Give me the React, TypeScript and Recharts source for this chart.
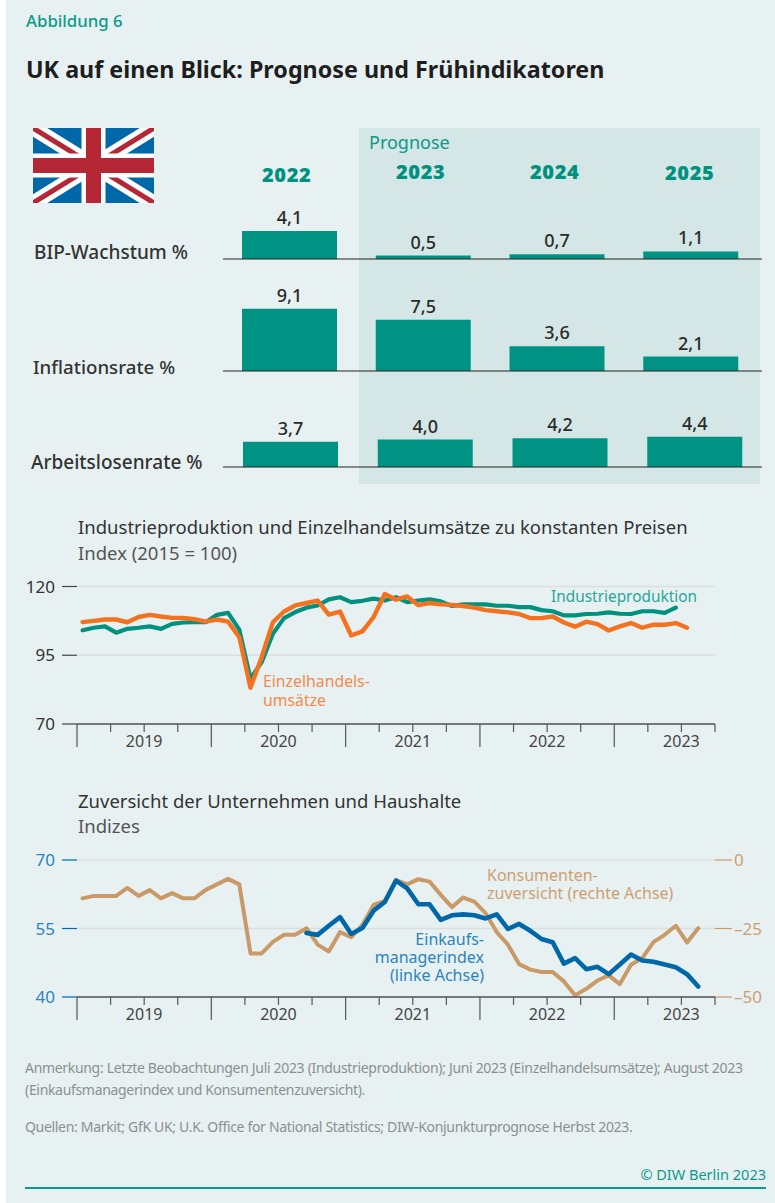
import React from 'react';
import { Bar, BarChart, CartesianGrid, LabelList, Line, LineChart, XAxis, YAxis } from 'recharts';

const FONT = '"Noto Sans", sans-serif';
const TEAL = '#00917f';
const ORANGE = '#f4711f';
const TAN = '#c99a68';
const BLUE = '#0068a8';

const forecastYears = ['2022', '2023', '2024', '2025'];
const gdpGrowth = [4.1, 0.5, 0.7, 1.1];
const inflation = [9.1, 7.5, 3.6, 2.1];
const unemployment = [3.7, 4.0, 4.2, 4.4];

const yearLabels = ['2019', '2020', '2021', '2022', '2023'];
const monthTicks = [0, 3, 6, 9, 12, 15, 18, 21, 24, 27, 30, 33, 36, 39, 42, 45, 48, 51, 54, 57];

const industry = [
  104.1, 105, 105.5, 103.2, 104.6, 105, 105.5, 104.6, 106.4, 106.9, 107, 107,
  109.7, 110.4, 104.3, 86.5, 92.5, 102.8, 108.5, 110.7, 112.3, 113.1, 115.3, 116.1,
  114.3, 114.8, 115.6, 114.9, 116.1, 114.3, 114.9, 115.3, 114.6, 112.9, 113.5, 113.5,
  113.5, 113, 113, 112.5, 112.5, 111.4, 111, 109.5, 109.5, 110, 110.1, 110.6,
  110.1, 110, 111, 111, 110.4, 112.3,
];
const retail = [
  107.05, 107.5, 108, 108, 107, 108.9, 109.7, 109.1, 108.6, 108.6, 108.1, 107.2,
  108, 107.2, 101.6, 83.2, 94.3, 107, 110.9, 113.1, 114, 114.9, 109.8, 110.9,
  102.2, 103.7, 108.9, 117.3, 115.2, 116.4, 113.2, 114, 113.5, 113.3, 112.9, 112.3,
  111.4, 111, 110.6, 110, 108.5, 108.5, 109.1, 106.9, 105.4, 107.2, 106.3, 104,
  105.5, 106.7, 105, 106.1, 106.1, 106.7, 105,
];
const consumer = [
  -14, -13.1, -13.1, -13.1, -10.2, -13.1, -11, -14, -12.1, -14, -14, -10.9,
  -8.9, -6.9, -8.9, -34.1, -34.1, -29.9, -27.3, -27.3, -24.9, -30.9, -33.4, -26.3,
  -28.2, -23.7, -16.4, -14.9, -7.3, -8.9, -7, -7.9, -12.7, -17.2, -13.7, -15.2,
  -19.4, -26.3, -30.9, -38, -40, -40.9, -40.9, -44.3, -49.4, -47, -44, -42.1,
  -45.3, -38.2, -35.8, -30, -27.3, -24, -30.1, -24.9,
];
const pmi = [
  null, null, null, null, null, null, null, null, null, null, null, null,
  null, null, null, null, null, null, null, null, 54, 53.6, 55.6, 57.5,
  53.8, 55.1, 58.9, 60.8, 65.5, 63.8, 60.3, 60.3, 56.9, 57.9, 58.1, 57.9,
  57.2, 58.1, 54.9, 56, 54.5, 52.7, 52, 47.3, 48.5, 46.1, 46.6, 45,
  47.1, 49.3, 48, 47.7, 47.1, 46.5, 45, 42.3,
];

const upperData = retail.map((v, i) => ({ pos: i + 0.5, retail: v, industry: industry[i] ?? null }));
const lowerData = consumer.map((v, i) => ({ pos: i + 0.5, consumer: v, pmi: pmi[i] }));

const fmt = (v: number) => v.toFixed(1).replace('.', ',');

const Txt = ({ x, y, color = '#333', size = 16, weight = 400, align = 'left', spacing = 0, font = FONT, children }: any) => (
  <div
    style={{
      position: 'absolute',
      left: align === 'left' ? x : undefined,
      right: align === 'right' ? 775 - x : undefined,
      top: y - 8,
      lineHeight: '16px',
      height: 16,
      whiteSpace: 'nowrap',
      color,
      fontSize: size,
      fontWeight: weight,
      fontFamily: font,
      letterSpacing: spacing,
    }}
  >
    {children}
  </div>
);

const TimeTick = ({ x, y, payload, color }: any) => {
  const m = payload.value;
  const isYear = m % 12 === 0;
  return (
    <g>
      <line x1={x} x2={x} y1={y} y2={y + (isYear ? 23 : 8)} stroke="#555" strokeWidth={1.2} />
      {m % 12 === 6 && (
        <text x={x} y={y + 23} textAnchor="middle" fontSize={16} fontFamily={FONT} fill={color}>
          {yearLabels[(m - 6) / 12]}
        </text>
      )}
    </g>
  );
};

const ColorTick = ({ x, y, payload, color, anchor, shift = 0, fmtr }: any) => (
  <text x={x + shift} y={y} dy={6} textAnchor={anchor} fontSize={17} fontFamily={FONT} fill={color}>
    {fmtr ? fmtr(payload.value) : payload.value}
  </text>
);

const BarRow = ({ values, baseline, inset = 4 }: { values: number[]; baseline: number; inset?: number }) => {
  const data = forecastYears.map((year, i) => ({ year, value: values[i] }));
  return (
    <div style={{ position: 'absolute', left: 0, top: baseline - 99 }}>
      <BarChart width={775} height={100} data={data} margin={{ top: 30.5, right: 13, bottom: 0, left: 223 }}>
        <XAxis dataKey="year" tick={false} tickLine={false} height={1} padding={{ left: 0, right: inset }} axisLine={{ stroke: '#222', strokeWidth: 1 }} />
        <YAxis hide domain={[0, 10]} />
        <Bar dataKey="value" fill="#009384" barSize={95} isAnimationActive={false}>
          <LabelList dataKey="value" position="top" offset={7} formatter={fmt} fontSize={18} fontWeight={500} fontFamily={FONT} fill="#2a2a2a" />
        </Bar>
      </BarChart>
    </div>
  );
};

const Flag = () => (
  <svg width={121} height={75} viewBox="0 0 121 75" style={{ position: 'absolute', left: 33, top: 128 }}>
    <rect width={121} height={75} fill="#0068a8" />
    <path d="M0 0L121 75M121 0L0 75" stroke="#fff" strokeWidth={15} />
    <path d="M0 0L121 75M121 0L0 75" stroke="#b52735" strokeWidth={5} />
    <path d="M60.5 0V75M0 37.5H121" stroke="#fff" strokeWidth={24} />
    <path d="M60.5 0V75M0 37.5H121" stroke="#b52735" strokeWidth={15} />
  </svg>
);

const App = () => (
  <div style={{ position: 'absolute', left: 0, top: 0, width: 775, height: 1203, background: '#fff', overflow: 'hidden' }}>
    <div style={{ position: 'absolute', left: 6, top: 0, width: 769, height: 1203, background: '#e8f1f2' }} />
    <div style={{ position: 'absolute', left: 359, top: 128, width: 401, height: 356, background: '#d4e6e5' }} />

    <Txt x={26} y={21} color="#0a9a8a" size={16.8} weight={500}>Abbildung 6</Txt>
    <Txt x={26} y={69} color="#1e1e1e" size={23.3} weight={700}>UK auf einen Blick: Prognose und Frühindikatoren</Txt>

    <Flag />
    <Txt x={369} y={142} color="#0a9a8a" size={18}>Prognose</Txt>
    <Txt x={262} y={175} color={TEAL} size={20} weight={900} spacing={0.6}>2022</Txt>
    <Txt x={396} y={172} color={TEAL} size={20} weight={900} spacing={0.6}>2023</Txt>
    <Txt x={530} y={172} color={TEAL} size={20} weight={900} spacing={0.6}>2024</Txt>
    <Txt x={665} y={173} color={TEAL} size={20} weight={900} spacing={0.6}>2025</Txt>

    <BarRow values={gdpGrowth} baseline={259} />
    <BarRow values={inflation} baseline={371} />
    <BarRow values={unemployment} baseline={467} inset={0} />

    <Txt x={34} y={252} size={19} weight={500}>BIP-Wachstum %</Txt>
    <Txt x={33} y={367} size={18.7} weight={500}>Inflationsrate %</Txt>
    <Txt x={31} y={462} size={19} weight={500}>Arbeitslosenrate %</Txt>

    <Txt x={78} y={527} size={18.5}>Industrieproduktion und Einzelhandelsumsätze zu konstanten Preisen</Txt>
    <Txt x={78} y={553} size={18.5} color="#555">Index (2015 = 100)</Txt>

    <div style={{ position: 'absolute', left: 0, top: 570 }}>
      <LineChart width={775} height={190} data={upperData} margin={{ top: 16.5, right: 60, bottom: 0, left: 0 }}>
        <CartesianGrid horizontal vertical={false} stroke="#dcdfe0" strokeWidth={1.5} />
        <XAxis
          type="number"
          dataKey="pos"
          domain={[0, 57]}
          ticks={monthTicks}
          interval={0}
          height={36}
          tickLine={false}
          tickSize={0}
          tickMargin={0}
          axisLine={{ stroke: '#555', strokeWidth: 1.5 }}
          tick={<TimeTick color="#444" />}
        />
        <YAxis
          width={77}
          domain={[70, 120]}
          ticks={[70, 95, 120]}
          axisLine={false}
          tickSize={15}
          tickLine={{ stroke: '#444', strokeWidth: 1.2 }}
          tick={<ColorTick color="#333" anchor="end" shift={-5} />}
        />
        <Line dataKey="industry" stroke={TEAL} strokeWidth={4.2} dot={false} isAnimationActive={false} strokeLinecap="round" strokeLinejoin="round" />
        <Line dataKey="retail" stroke={ORANGE} strokeWidth={4.4} dot={false} isAnimationActive={false} strokeLinecap="round" strokeLinejoin="round" />
      </LineChart>
    </div>
    <Txt x={551} y={597} color="#2aa598" size={15.4}>Industrieproduktion</Txt>
    <Txt x={263} y={681} color="#f58a4c" size={15.8}>Einzelhandels-</Txt>
    <Txt x={263} y={700} color="#f58a4c" size={15.8}>umsätze</Txt>

    <Txt x={78} y={801} size={18.5}>Zuversicht der Unternehmen und Haushalte</Txt>
    <Txt x={78} y={826} size={18.5} color="#555">Indizes</Txt>

    <div style={{ position: 'absolute', left: 0, top: 845 }}>
      <LineChart width={775} height={190} data={lowerData} margin={{ top: 15, right: 0, bottom: 0, left: 0 }}>
        <CartesianGrid yAxisId="left" horizontal vertical={false} stroke="#dcdfe0" strokeWidth={1.5} />
        <XAxis
          type="number"
          dataKey="pos"
          domain={[0, 57]}
          ticks={monthTicks}
          interval={0}
          height={38}
          tickLine={false}
          tickSize={0}
          tickMargin={0}
          axisLine={{ stroke: '#555', strokeWidth: 1.5 }}
          tick={<TimeTick color="#444" />}
        />
        <YAxis
          yAxisId="left"
          width={77}
          domain={[40, 70]}
          ticks={[40, 55, 70]}
          axisLine={false}
          tickSize={15}
          tickLine={{ stroke: BLUE, strokeWidth: 1.2 }}
          tick={<ColorTick color="#2a84bd" anchor="end" shift={-5} />}
        />
        <YAxis
          yAxisId="right"
          orientation="right"
          width={60}
          domain={[-50, 0]}
          ticks={[-50, -25, 0]}
          axisLine={false}
          tickSize={17}
          tickLine={{ stroke: TAN, strokeWidth: 1.2 }}
          tick={<ColorTick color="#cd9f6f" anchor="start" fmtr={(v: number) => String(v).replace('-', '–')} />}
        />
        <Line yAxisId="right" dataKey="consumer" stroke={TAN} strokeWidth={4} dot={false} isAnimationActive={false} strokeLinecap="round" strokeLinejoin="round" />
        <Line yAxisId="left" dataKey="pmi" stroke={BLUE} strokeWidth={4.6} dot={false} isAnimationActive={false} strokeLinecap="round" strokeLinejoin="round" />
      </LineChart>
    </div>
    <Txt x={487} y={875} color="#cd9f6f" size={16}>Konsumenten-</Txt>
    <Txt x={487} y={893} color="#cd9f6f" size={16}>zuversicht (rechte Achse)</Txt>
    <Txt x={484} y={939} align="right" color="#2a84bd" size={16}>Einkaufs-</Txt>
    <Txt x={484} y={957} align="right" color="#2a84bd" size={16}>managerindex</Txt>
    <Txt x={484} y={975} align="right" color="#2a84bd" size={16}>(linke Achse)</Txt>

    <Txt x={25} y={1068} color="#8a9091" size={14} spacing={-0.32}>Anmerkung: Letzte Beobachtungen Juli 2023 (Industrieproduktion); Juni 2023 (Einzelhandelsumsätze); August 2023</Txt>
    <Txt x={25} y={1090} color="#8a9091" size={14} spacing={-0.32}>(Einkaufsmanagerindex und Konsumentenzuversicht).</Txt>
    <Txt x={25} y={1127} color="#8a9091" size={14} spacing={-0.32}>Quellen: Markit; GfK UK; U.K. Office for National Statistics; DIW-Konjunkturprognose Herbst 2023.</Txt>

    <Txt x={766} y={1174} align="right" color="#0a9a8a" size={14.5}>© DIW Berlin 2023</Txt>
    <div style={{ position: 'absolute', left: 25, top: 1187, width: 741, height: 1.5, background: '#0a9a8a' }} />
  </div>
);

export default App;
